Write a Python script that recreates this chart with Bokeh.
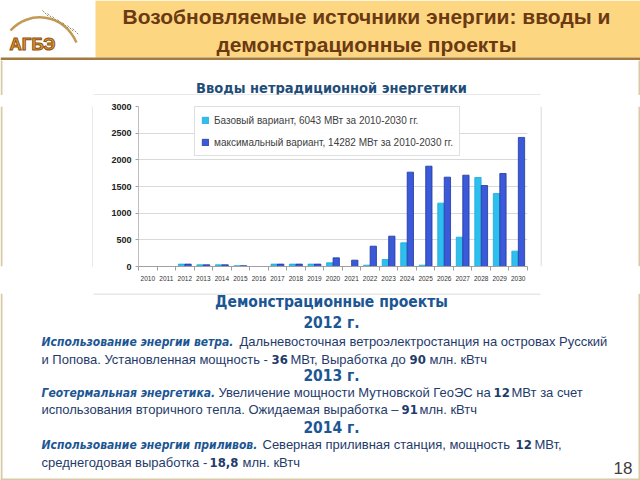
from bokeh.plotting import figure
from bokeh.models import Range1d, ColumnDataSource, FixedTicker, Legend, LegendItem
from bokeh.layouts import column, row
from bokeh.transform import dodge
from bokeh.core.properties import value
from bokeh.embed import file_html
from bokeh.resources import INLINE

# ---------------- data ----------------
years = [2010, 2011, 2012, 2013, 2014, 2015, 2016, 2017, 2018, 2019, 2020,
         2021, 2022, 2023, 2024, 2025, 2026, 2027, 2028, 2029, 2030]
base_values = [0, 0, 45, 32, 32, 15, 0, 45, 45, 45, 69,
               0, 25, 131, 444, 25, 1188, 550, 1669, 1369, 288]
max_values = [0, 0, 45, 32, 32, 15, 0, 45, 45, 45, 162,
              119, 381, 569, 1769, 1881, 1675, 1712, 1519, 1744, 2420]
y_ticks = [0, 500, 1000, 1500, 2000, 2500, 3000]
series_labels = ["Базовый вариант, 6043 МВт за 2010-2030 гг.",
                 "максимальный вариант, 14282 МВт за 2010-2030 гг."]

slide_title = ["Возобновляемые источники энергии: вводы и", "демонстрационные проекты"]
chart_title = "Вводы нетрадиционной энергетики"

# ---------------- style ----------------
SANS = "Liberation Sans"
NARROW = "DejaVu Sans Condensed"
BASE_FILL, BASE_LINE = "#2DC0EE", "#21A6D6"
MAX_FILL, MAX_LINE = "#3A5ADA", "#1F379A"
HEAD_BLUE = "#1C5693"
BODY_BLUE = "#1F3B6B"
TAN = "#D8CAA6"
PANEL = "#D0D0D0"
BODY = 13


def blank(w, h):
    f = figure(width=w, height=h, x_range=Range1d(0, w), y_range=Range1d(h, 0),
               output_backend="svg", toolbar_location=None, min_border=0)
    f.axis.visible = False
    f.grid.visible = False
    f.outline_line_color = None
    f.background_fill_color = "white"
    f.border_fill_color = "white"
    return f


def txt(f, x, y, s, size, color, font=SANS, style="normal", align="left", **kw):
    f.text(x=[x], y=[y], text=[s], text_font=value(font), text_font_size=f"{size}px",
           text_font_style=style, text_color=color, text_align=align,
           text_baseline="middle", **kw)


# ---------------- header ----------------
head = blank(640, 95)
head.quad(left=[95], right=[640], top=[0], bottom=[57], fill_color="#FDD681", line_color=None)
head.quad(left=[0], right=[640], top=[57], bottom=[59.5], fill_color="#A27A40", line_color=None)
txt(head, 366, 16, slide_title[0], 21, "#6B3A12", style="bold", align="center")
txt(head, 366, 44, slide_title[1], 21, "#6B3A12", style="bold", align="center")
# logo
head.bezier(x0=[10], y0=[30], x1=[76], y1=[42], cx0=[28], cy0=[10], cx1=[62], cy1=[12],
            line_color="#C29A52", line_width=2.5)
head.segment(x0=[42, 47, 52, 57, 62, 67, 72], y0=[10, 13, 16, 19, 22, 25, 28],
             x1=[48, 53, 58, 63, 68, 73, 78], y1=[16, 19, 22, 25, 28, 31, 34],
             line_color="#9C8A6A", line_width=1, line_dash="2 1")
txt(head, 9, 44, "АГБЭ", 17, "#E89A28", style="bold",
    text_outline_color="#8A5214")
txt(head, 331, 87, chart_title, 14.5, "#1F4E79", font=NARROW, style="bold", align="center")
head.segment(x0=[93], y0=[94.5], x1=[540], y1=[94.5], line_color=PANEL, line_width=1)
head.segment(x0=[1, 639], y0=[60, 60], x1=[1, 639], y1=[95, 95], line_color=TAN, line_width=2)

# ---------------- chart ----------------
src = ColumnDataSource(dict(year=years, base=base_values, maxv=max_values))
p = figure(width=447, height=198, x_range=Range1d(years[0] - 0.5, years[-1] + 0.5),
           y_range=Range1d(y_ticks[0], y_ticks[-1]), output_backend="svg",
           toolbar_location=None, min_border_left=45, min_border_right=13,
           min_border_top=11, min_border_bottom=27)
p.outline_line_color = None
p.background_fill_color = "white"
p.border_fill_color = "white"

r1 = p.vbar(x=dodge("year", -0.175, range=p.x_range), top="base", width=0.34, source=src,
            fill_color=BASE_FILL, line_color=BASE_LINE, line_width=0.8)
r2 = p.vbar(x=dodge("year", 0.175, range=p.x_range), top="maxv", width=0.34, source=src,
            fill_color=MAX_FILL, line_color=MAX_LINE, line_width=0.8)

p.yaxis.ticker = FixedTicker(ticks=y_ticks)
p.ygrid.ticker = FixedTicker(ticks=y_ticks)
p.ygrid.grid_line_color = "#D9D9D9"
p.xgrid.visible = False
p.yaxis.axis_line_color = "#BFBFBF"
p.yaxis.major_tick_out = 3
p.yaxis.major_tick_in = 0
p.yaxis.major_tick_line_color = "#A0A0A0"
p.yaxis.minor_tick_line_color = None
p.yaxis.major_label_text_font = SANS
p.yaxis.major_label_text_font_style = "bold"
p.yaxis.major_label_text_font_size = "9px"
p.yaxis.major_label_text_color = "#222222"
p.yaxis.major_label_standoff = 4

p.xaxis.ticker = FixedTicker(ticks=years, minor_ticks=[y - 0.5 for y in years] + [years[-1] + 0.5])
p.xaxis.major_label_overrides = {y: str(y) for y in years}
p.xaxis.axis_line_color = "#A0A0A0"
p.xaxis.major_tick_line_color = None
p.xaxis.major_tick_out = 0
p.xaxis.major_tick_in = 0
p.xaxis.minor_tick_out = 4
p.xaxis.minor_tick_in = 0
p.xaxis.minor_tick_line_color = "#A0A0A0"
p.xaxis.major_label_text_font = SANS
p.xaxis.major_label_text_font_size = "6.5px"
p.xaxis.major_label_text_color = "#333333"
p.xaxis.major_label_standoff = 5

legend = Legend(items=[LegendItem(label=series_labels[0], renderers=[r1]),
                       LegendItem(label=series_labels[1], renderers=[r2])],
                location=(56, 110), padding=6, spacing=8, label_height=14,
                glyph_height=8, glyph_width=8, label_standoff=5, margin=0,
                border_line_color="#BFBFBF", background_fill_color="white",
                label_text_font_size="10px", label_text_color="#404040",
                label_text_font=SANS)
p.add_layout(legend)

left = blank(93, 198)
left.segment(x0=[1], y0=[0], x1=[1], y1=[198], line_color=TAN, line_width=2)
left.segment(x0=[92.5], y0=[0], x1=[92.5], y1=[198], line_color=PANEL, line_width=1)
right = blank(100, 198)
right.segment(x0=[99], y0=[0], x1=[99], y1=[198], line_color=TAN, line_width=2)
right.segment(x0=[0.5], y0=[0], x1=[0.5], y1=[198], line_color=PANEL, line_width=1)

# ---------------- text block ----------------
b = blank(640, 187)
b.segment(x0=[93], y0=[0.5], x1=[540], y1=[0.5], line_color=PANEL, line_width=1)
b.segment(x0=[1, 639, 0], y0=[0, 0, 186], x1=[1, 639, 640], y1=[187, 187, 186],
          line_color=TAN, line_width=2)

txt(b, 331, 8, "Демонстрационные проекты", 15.5, HEAD_BLUE, font=NARROW, style="bold", align="center")
txt(b, 331, 29, "2012 г.", 15.5, HEAD_BLUE, font=NARROW, style="bold", align="center")
txt(b, 41, 48, "Использование энергии ветра.", 12, HEAD_BLUE, font=NARROW, style="bold italic")
txt(b, 239, 48, "Дальневосточная ветроэлектростанция на островах Русский", BODY, BODY_BLUE)
txt(b, 41, 66, "и Попова. Установленная мощность -", BODY, BODY_BLUE)
txt(b, 271, 66, "36", BODY, BODY_BLUE, font=NARROW, style="bold")
txt(b, 290, 66, "МВт, Выработка до", BODY, BODY_BLUE)
txt(b, 409, 66, "90", BODY, BODY_BLUE, font=NARROW, style="bold")
txt(b, 429, 66, "млн. кВтч", BODY, BODY_BLUE)
txt(b, 331, 82, "2013 г.", 15.5, HEAD_BLUE, font=NARROW, style="bold", align="center")
txt(b, 41, 99, "Геотермальная энергетика.", 12, HEAD_BLUE, font=NARROW, style="bold italic")
txt(b, 218, 99, "Увеличение мощности Мутновской ГеоЭС на", BODY, BODY_BLUE)
txt(b, 493, 99, "12", BODY, BODY_BLUE, font=NARROW, style="bold")
txt(b, 511, 99, "МВт за счет", BODY, BODY_BLUE)
txt(b, 41, 116, "использования вторичного тепла. Ожидаемая выработка –", BODY, BODY_BLUE)
txt(b, 401, 116, "91", BODY, BODY_BLUE, font=NARROW, style="bold")
txt(b, 419, 116, "млн. кВтч", BODY, BODY_BLUE)
txt(b, 331, 134, "2014 г.", 15.5, HEAD_BLUE, font=NARROW, style="bold", align="center")
txt(b, 41, 151, "Использование энергии приливов.", 12, HEAD_BLUE, font=NARROW, style="bold italic")
txt(b, 262, 151, "Северная приливная станция, мощность", BODY, BODY_BLUE)
txt(b, 515, 151, "12", BODY, BODY_BLUE, font=NARROW, style="bold")
txt(b, 534, 151, "МВт,", BODY, BODY_BLUE)
txt(b, 41, 169, "среднегодовая выработка -", BODY, BODY_BLUE)
txt(b, 209, 169, "18,8", BODY, BODY_BLUE, font=NARROW, style="bold")
txt(b, 242, 169, "млн. кВтч", BODY, BODY_BLUE)
txt(b, 632, 174, "18", 17, "#404040", align="right")

layout = column(head, row(left, p, right), b)
open("out.html", "w").write(file_html(layout, INLINE))
